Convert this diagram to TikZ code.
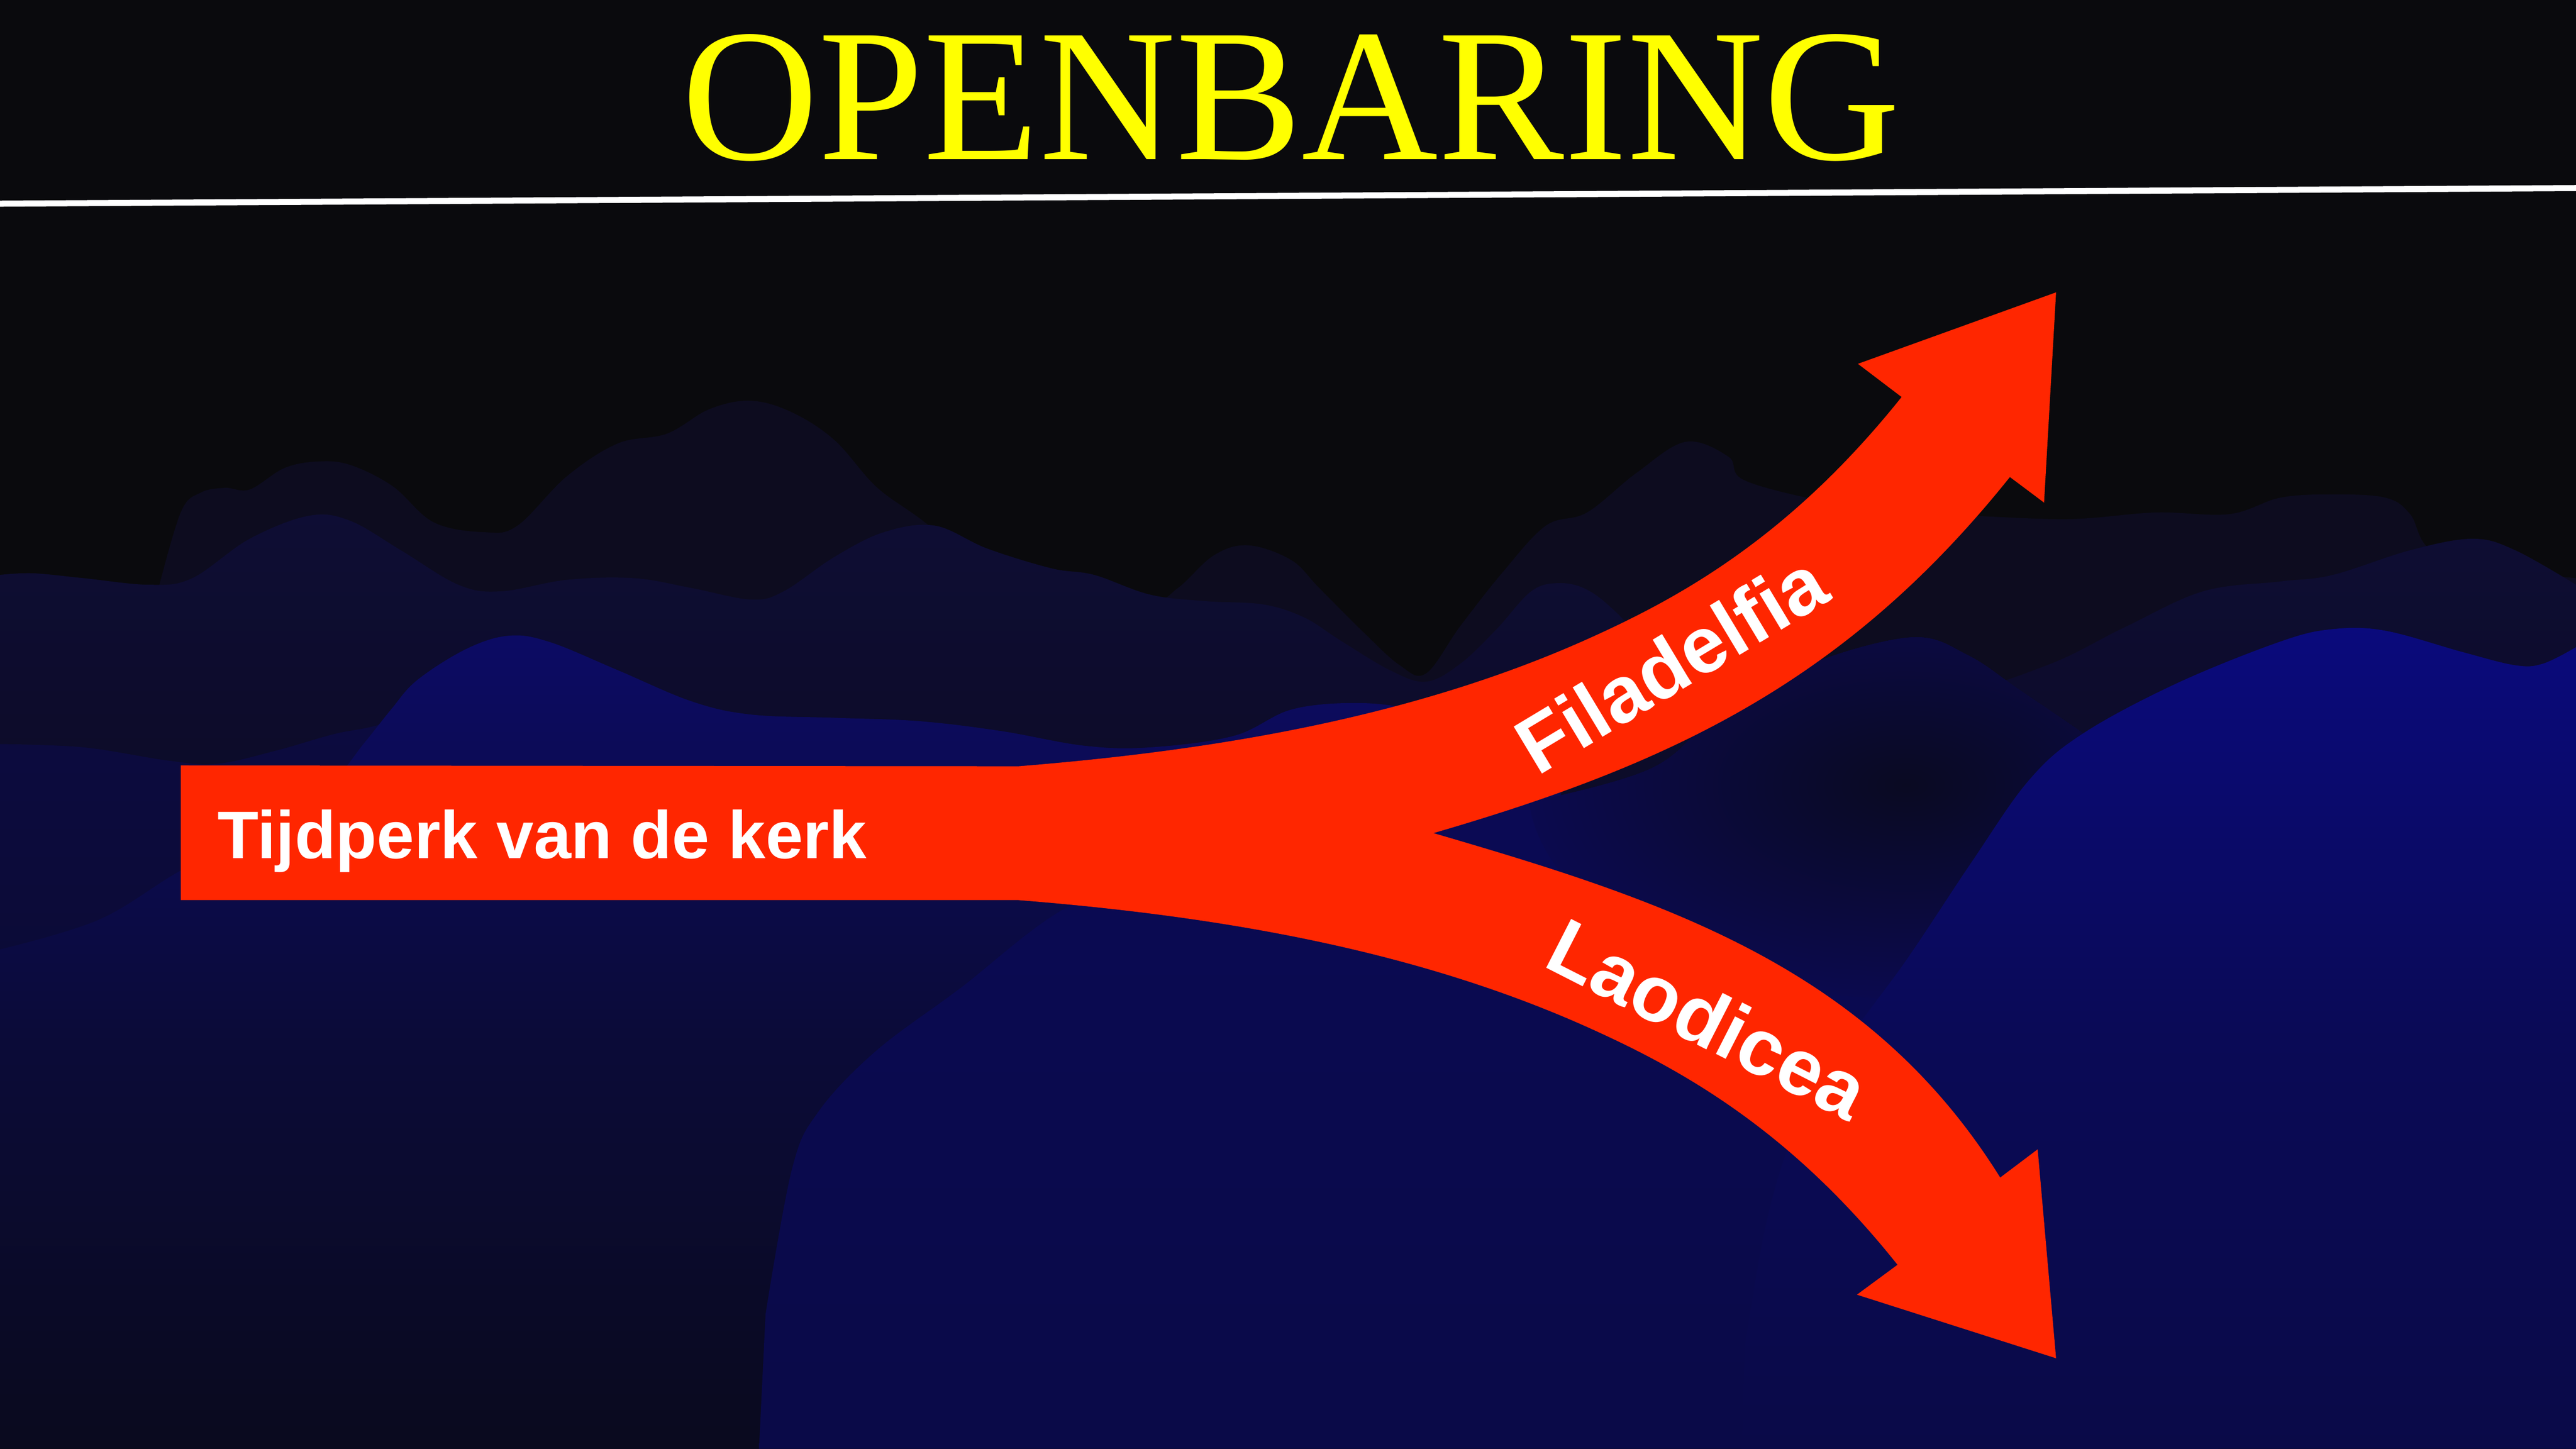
\documentclass[tikz,border=0pt]{standalone}
\usepackage{fontspec}
\newfontfamily\titlefont{Liberation Serif}
\newfontfamily\labelfont{Liberation Sans}
\definecolor{bgcol}{HTML}{0A0A0D}
\definecolor{layA}{HTML}{0D0C1F}
\definecolor{layBtop}{HTML}{0E0D34}
\definecolor{layBbot}{HTML}{0B0B20}
\definecolor{layCdtop}{HTML}{0C0B40}
\definecolor{layCdbot}{HTML}{0B0B30}
\definecolor{layCbtop}{HTML}{0C0B64}
\definecolor{layCbmid}{HTML}{0B0B38}
\definecolor{layCbbot}{HTML}{0A0A1E}
\definecolor{layDtop}{HTML}{0B0A58}
\definecolor{layDmid}{HTML}{0A0A4F}
\definecolor{layDbot}{HTML}{0A0A48}
\definecolor{shadowin}{HTML}{0A0A22}
\definecolor{shadowout}{HTML}{0B0A4E}
\definecolor{layEtop}{HTML}{0A0A7C}
\definecolor{layEmid}{HTML}{0A0A56}
\definecolor{layEbot}{HTML}{0A0A48}
\definecolor{arrowred}{HTML}{FF2600}
\definecolor{titleyellow}{HTML}{FFFF00}
\begin{document}
\begin{tikzpicture}[x=0.02cm,y=-0.02cm,
  ridge/.style={smooth,tension=0.6},
  labeltext/.style={text=white,inner sep=0,font=\labelfont\bfseries\fontsize{27.6}{30}\selectfont}]
\useasboundingbox (0,0) rectangle (1568,882);
\fill[bgcol] (0,0) rectangle (1568,882);

% layer A (farthest)
\fill[layA] (90,882) -- (90,400) -- plot[ridge] coordinates {(96,360) (110,312) (122,300) (137,297) (152,298) (173,285) (193,281) (213,283) (239,296) (264,318) (295,324) (315,320) (345,290) (376,270) (406,264) (432,249) (457,244) (482,251) (508,268) (533,296) (559,315) (600,345) (650,360) (700,366) (717,358) (739,338) (760,332) (786,341) (803,358) (830,385) (852,405) (868,410) (889,381) (915,348) (941,320) (966,312) (996,288) (1026,269) (1052,278) (1061,292) (1104,304) (1150,312) (1200,314) (1260,316) (1312,312) (1357,313) (1388,303) (1420,301) (1452,303) (1467,313) (1480,335) (1520,346) (1568,352)} -- (1568,882) -- cycle;

% layer B
\shade[top color=layBtop,bottom color=layBbot] (0,600) -- plot[ridge] coordinates {(0,350) (20,349) (51,352) (91,356) (117,352) (152,328) (188,314) (213,317) (244,335) (279,356) (305,360) (345,353) (386,352) (421,358) (457,365) (477,360) (508,339) (538,324) (569,320) (601,334) (640,346) (666,350) (700,362) (734,366) (769,368) (794,376) (816,390) (846,408) (868,415) (889,404) (911,383) (932,360) (949,355) (966,359) (984,373) (1012,402) (1050,425) (1100,430) (1180,425) (1246,405) (1293,382) (1341,360) (1388,354) (1420,350) (1467,335) (1505,328) (1531,335) (1568,356)} -- (1568,600) -- cycle;

% layer C, dim left part
\shade[top color=layCdtop,bottom color=layCdbot] (0,700) -- plot[ridge] coordinates {(0,453) (51,455) (102,463) (132,465) (168,457) (203,447) (228,442) (260,432) (300,428)} -- (300,700) -- cycle;

% layer C, bright peak
\shade[top color=layCbtop,bottom color=layCbbot,middle color=layCbmid] (0,882) -- plot[ridge] coordinates {(0,578) (60,560) (110,530) (160,505) (200,478) (222,452) (238,432) (254,414) (284,395) (310,387) (335,391) (376,408) (421,427) (457,435) (508,437) (559,439) (609,445) (660,454) (700,455) (751,448) (786,432) (825,428) (860,432) (900,445) (950,470)} -- (950,882) -- cycle;

% layer D/F (front hill under the arrow)
\shade[top color=layDtop,bottom color=layDbot,middle color=layDmid] (462,882) -- plot[ridge] coordinates {(466,800) (482,712) (498,677) (533,640) (584,602) (650,552) (720,528) (800,512) (900,495) (1000,470) (1040,440) (1072,425) (1104,403.5) (1164,388) (1198,399) (1230,420.6) (1268,446.5) (1300,470) (1350,500)} -- (1350,882) -- cycle;
\begin{scope}
  \clip (462,882) -- plot[ridge] coordinates {(466,800) (482,712) (498,677) (533,640) (584,602) (650,552) (720,528) (800,512) (900,495) (1000,470) (1040,440) (1072,425) (1104,403.5) (1164,388) (1198,399) (1230,420.6) (1268,446.5) (1300,470) (1350,500)} -- (1350,882) -- cycle;
  \shade[inner color=shadowin,outer color=shadowout] (1160,478) ellipse (230 and 130);
\end{scope}

% layer E (bright front right)
\shade[top color=layEtop,bottom color=layEbot,middle color=layEmid] (1060,882) -- plot[ridge] coordinates {(1062,820) (1075,745) (1092,690) (1120,640) (1160,585) (1200,525) (1235,475) (1268,446.5) (1325,416) (1388,390.6) (1420,383) (1452,384) (1499,397) (1531,405) (1548,404) (1568,394)} -- (1568,882) -- cycle;

% title and rule
\node[anchor=base,text=titleyellow,inner sep=0,font=\titlefont\fontsize{65.5}{70}\selectfont] (title) at (786,97) {OPENBARING};
\coordinate (ruleL) at (0,124);
\coordinate (ruleR) at (1568,114.5);
\draw[white,line width=2.1pt] (ruleL) -- (ruleR);

% forked arrow
\fill[arrowred] (110,466) -- (620,466.5)
  .. controls (738,457) and (859.3,437.2) .. (966.9,388.8)
  .. controls (1021.6,364.2) and (1088.6,327.9) .. (1157.5,241.7)
  -- (1130.9,221.5) -- (1251.5,178) -- (1244.2,306) -- (1223.4,290.4)
  .. controls (1123.4,415.4) and (1016.5,465.3) .. (872.5,507.2)
  .. controls (1016.5,549.1) and (1138.2,589.7) .. (1217.5,716.9)
  -- (1240.3,699.7) -- (1251.5,826.9) -- (1130.3,788.2) -- (1155,770)
  .. controls (1088.6,686.5) and (1021.6,650.2) .. (966.9,625.6)
  .. controls (859.3,577.2) and (738,557.4) .. (620,548)
  -- (110,548) -- cycle;

% labels
\node[labeltext,font=\labelfont\bfseries\fontsize{23.3}{26}\selectfont,anchor=base west] (era) at (132,522.7) {Tijdperk van de kerk};
\node[labeltext,rotate=31,anchor=base west] (fila) at (935.5,472.9) {Filadelfia};
\node[labeltext,rotate=-27,anchor=base west] (laod) at (938,587.6) {Laodicea};
\end{tikzpicture}
\end{document}
